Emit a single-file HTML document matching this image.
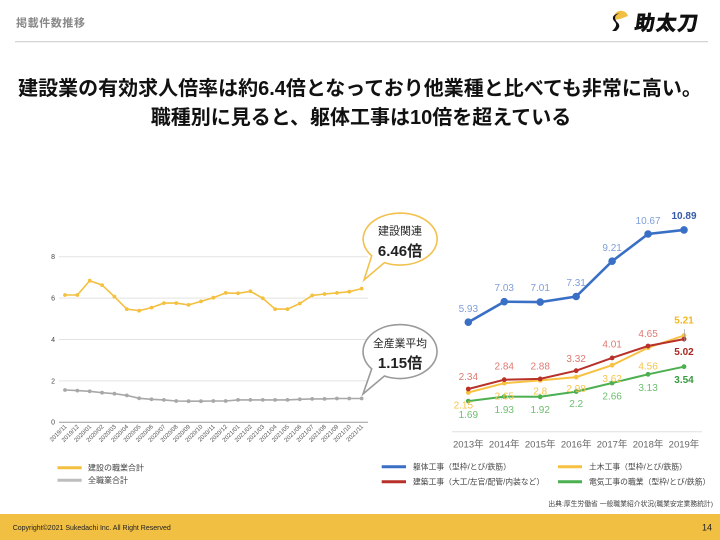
<!DOCTYPE html>
<html><head><meta charset="utf-8"><style>
html,body{margin:0;padding:0;background:#fff;}
svg{display:block;font-family:"Liberation Sans","Noto Sans CJK JP",sans-serif;}
</style></head><body>
<svg width="720" height="540" viewBox="0 0 720 540" xmlns="http://www.w3.org/2000/svg">
<rect width="720" height="540" fill="#fff"/>
<!-- header -->
<text x="16" y="26.5" font-size="11" font-weight="bold" fill="#888" letter-spacing="0.6">掲載件数推移</text>
<line x1="15" y1="41.7" x2="708" y2="41.7" stroke="#cfcfcf" stroke-width="1.2"/>
<!-- logo -->
<g>
<path d="M614 20 A7 7 0 0 1 628 16 L620 19 Z" fill="#f1bf41"/>
<path d="M620 13 Q612 16 617 22 Q622 26 616 31 L612 31 Q619 25 614 21 Q610 15 620 13 Z" fill="#111"/>
<text x="634" y="30" font-size="20" font-weight="bold" fill="#111" stroke="#111" stroke-width="0.7" letter-spacing="1.5" transform="skewX(-8)" transform-origin="660 30">助太刀</text>
</g>
<!-- title -->
<text x="360" y="95" font-size="20" font-weight="bold" fill="#111" text-anchor="middle">建設業の有効求人倍率は約6.4倍となっており他業種と比べても非常に高い。</text>
<text x="361" y="124" font-size="20" font-weight="bold" fill="#111" text-anchor="middle">職種別に見ると、躯体工事は10倍を超えている</text>

<!-- LEFT CHART -->
<g stroke="#e3e3e3" stroke-width="1">
<line x1="59" y1="256.7" x2="368" y2="256.7"/>
<line x1="59" y1="298.1" x2="368" y2="298.1"/>
<line x1="59" y1="339.5" x2="368" y2="339.5"/>
<line x1="59" y1="380.9" x2="368" y2="380.9"/>
</g>
<line x1="59" y1="422.3" x2="368" y2="422.3" stroke="#9a9a9a" stroke-width="1"/>
<g font-size="7" fill="#444" text-anchor="end">
<text x="55" y="259">8</text>
<text x="55" y="300.5">6</text>
<text x="55" y="342">4</text>
<text x="55" y="383.3">2</text>
<text x="55" y="424.7">0</text>
</g>
<polyline fill="none" stroke="#f4c040" stroke-width="1.6" points="65,295 77.36,295 89.72,280.7 102.08,285.1 114.44,296.7 126.8,309.1 139.16,310.7 151.52,307.6 163.88,303.1 176.24,303.1 188.6,304.9 200.96,301.4 213.32,297.7 225.68,292.9 238.04,293.3 250.4,291.3 262.76,298.3 275.12,309.1 287.48,309.1 299.84,303.5 312.2,295.4 324.56,294 336.92,292.9 349.28,291.7 361.64,288.6"/>
<g fill="#f4c040">
<circle cx="65" cy="295" r="1.9"/><circle cx="77.36" cy="295" r="1.9"/><circle cx="89.72" cy="280.7" r="1.9"/><circle cx="102.08" cy="285.1" r="1.9"/><circle cx="114.44" cy="296.7" r="1.9"/><circle cx="126.8" cy="309.1" r="1.9"/><circle cx="139.16" cy="310.7" r="1.9"/><circle cx="151.52" cy="307.6" r="1.9"/><circle cx="163.88" cy="303.1" r="1.9"/><circle cx="176.24" cy="303.1" r="1.9"/><circle cx="188.6" cy="304.9" r="1.9"/><circle cx="200.96" cy="301.4" r="1.9"/><circle cx="213.32" cy="297.7" r="1.9"/><circle cx="225.68" cy="292.9" r="1.9"/><circle cx="238.04" cy="293.3" r="1.9"/><circle cx="250.4" cy="291.3" r="1.9"/><circle cx="262.76" cy="298.3" r="1.9"/><circle cx="275.12" cy="309.1" r="1.9"/><circle cx="287.48" cy="309.1" r="1.9"/><circle cx="299.84" cy="303.5" r="1.9"/><circle cx="312.2" cy="295.4" r="1.9"/><circle cx="324.56" cy="294" r="1.9"/><circle cx="336.92" cy="292.9" r="1.9"/><circle cx="349.28" cy="291.7" r="1.9"/><circle cx="361.64" cy="288.6" r="1.9"/>
</g>
<polyline fill="none" stroke="#a8a8a8" stroke-width="1.6" points="65,390 77.36,390.6 89.72,391.3 102.08,392.7 114.44,393.7 126.8,395.4 139.16,398.3 151.52,399.3 163.88,399.9 176.24,401 188.6,401.2 200.96,401.2 213.32,401 225.68,401 238.04,399.9 250.4,399.9 262.76,399.9 275.12,399.9 287.48,399.9 299.84,399.3 312.2,398.9 324.56,398.9 336.92,398.5 349.28,398.5 361.64,398.5"/>
<g fill="#a8a8a8">
<circle cx="65" cy="390" r="1.9"/><circle cx="77.36" cy="390.6" r="1.9"/><circle cx="89.72" cy="391.3" r="1.9"/><circle cx="102.08" cy="392.7" r="1.9"/><circle cx="114.44" cy="393.7" r="1.9"/><circle cx="126.8" cy="395.4" r="1.9"/><circle cx="139.16" cy="398.3" r="1.9"/><circle cx="151.52" cy="399.3" r="1.9"/><circle cx="163.88" cy="399.9" r="1.9"/><circle cx="176.24" cy="401" r="1.9"/><circle cx="188.6" cy="401.2" r="1.9"/><circle cx="200.96" cy="401.2" r="1.9"/><circle cx="213.32" cy="401" r="1.9"/><circle cx="225.68" cy="401" r="1.9"/><circle cx="238.04" cy="399.9" r="1.9"/><circle cx="250.4" cy="399.9" r="1.9"/><circle cx="262.76" cy="399.9" r="1.9"/><circle cx="275.12" cy="399.9" r="1.9"/><circle cx="287.48" cy="399.9" r="1.9"/><circle cx="299.84" cy="399.3" r="1.9"/><circle cx="312.2" cy="398.9" r="1.9"/><circle cx="324.56" cy="398.9" r="1.9"/><circle cx="336.92" cy="398.5" r="1.9"/><circle cx="349.28" cy="398.5" r="1.9"/><circle cx="361.64" cy="398.5" r="1.9"/>
</g>
<g font-size="6" fill="#555" text-anchor="end">
<text transform="translate(67,427) rotate(-45)">2019/11</text>
<text transform="translate(79.36,427) rotate(-45)">2019/12</text>
<text transform="translate(91.72,427) rotate(-45)">2020/01</text>
<text transform="translate(104.08,427) rotate(-45)">2020/02</text>
<text transform="translate(116.44,427) rotate(-45)">2020/03</text>
<text transform="translate(128.8,427) rotate(-45)">2020/04</text>
<text transform="translate(141.16,427) rotate(-45)">2020/05</text>
<text transform="translate(153.52,427) rotate(-45)">2020/06</text>
<text transform="translate(165.88,427) rotate(-45)">2020/07</text>
<text transform="translate(178.24,427) rotate(-45)">2020/08</text>
<text transform="translate(190.6,427) rotate(-45)">2020/09</text>
<text transform="translate(202.96,427) rotate(-45)">2020/10</text>
<text transform="translate(215.32,427) rotate(-45)">2020/11</text>
<text transform="translate(227.68,427) rotate(-45)">2020/12</text>
<text transform="translate(240.04,427) rotate(-45)">2021/01</text>
<text transform="translate(252.4,427) rotate(-45)">2021/02</text>
<text transform="translate(264.76,427) rotate(-45)">2021/03</text>
<text transform="translate(277.12,427) rotate(-45)">2021/04</text>
<text transform="translate(289.48,427) rotate(-45)">2021/05</text>
<text transform="translate(301.84,427) rotate(-45)">2021/06</text>
<text transform="translate(314.2,427) rotate(-45)">2021/07</text>
<text transform="translate(326.56,427) rotate(-45)">2021/08</text>
<text transform="translate(338.92,427) rotate(-45)">2021/09</text>
<text transform="translate(351.28,427) rotate(-45)">2021/10</text>
<text transform="translate(363.64,427) rotate(-45)">2021/11</text>
</g>
<!-- left legend -->
<line x1="57.5" y1="467.7" x2="81.7" y2="467.7" stroke="#f4c040" stroke-width="3"/>
<text x="88" y="470.5" font-size="8" fill="#444">建設の職業合計</text>
<line x1="57.5" y1="480.3" x2="81.7" y2="480.3" stroke="#bdbdbd" stroke-width="3"/>
<text x="88" y="483.1" font-size="8" fill="#444">全職業合計</text>

<!-- callouts -->
<path d="M371.7 255.7 L364 280 L384.4 262.6 A37 26 0 1 0 371.7 255.7 Z" fill="#fff" stroke="#f2c14e" stroke-width="1.6"/>
<text x="400" y="234.5" font-size="11" fill="#222" text-anchor="middle">建設関連</text>
<text x="400" y="256" font-size="15" font-weight="bold" fill="#222" text-anchor="middle">6.46倍</text>
<path d="M371.7 368.9 L363 394 L384.4 376 A37 27 0 1 0 371.7 368.9 Z" fill="#fff" stroke="#9a9a9a" stroke-width="1.6"/>
<text x="400" y="347" font-size="10.8" fill="#222" text-anchor="middle">全産業平均</text>
<text x="400" y="368" font-size="15" font-weight="bold" fill="#222" text-anchor="middle">1.15倍</text>

<!-- RIGHT CHART -->
<line x1="452" y1="431.7" x2="702" y2="431.7" stroke="#e0e0e0" stroke-width="1"/>
<g font-size="9.5" fill="#666" text-anchor="middle">
<text x="468.3" y="447.5">2013年</text>
<text x="504.25" y="447.5">2014年</text>
<text x="540.2" y="447.5">2015年</text>
<text x="576.15" y="447.5">2016年</text>
<text x="612.1" y="447.5">2017年</text>
<text x="648.05" y="447.5">2018年</text>
<text x="684" y="447.5">2019年</text>
</g>
<!-- green -->
<polyline fill="none" stroke="#4caf50" stroke-width="2" points="468.3,401.1 504.25,396.6 540.2,396.8 576.15,391.6 612.1,383 648.05,374.3 684,366.7"/>
<g fill="#4caf50"><circle cx="468.3" cy="401.1" r="2.4"/><circle cx="504.25" cy="396.6" r="2.4"/><circle cx="540.2" cy="396.8" r="2.4"/><circle cx="576.15" cy="391.6" r="2.4"/><circle cx="612.1" cy="383" r="2.4"/><circle cx="648.05" cy="374.3" r="2.4"/><circle cx="684" cy="366.7" r="2.4"/></g>
<!-- yellow -->
<polyline fill="none" stroke="#f7c242" stroke-width="2" points="468.3,392.5 504.25,383.2 540.2,380.4 576.15,377.1 612.1,365.2 648.05,347.7 684,335.6"/>
<g fill="#f7c242"><circle cx="468.3" cy="392.5" r="2.4"/><circle cx="504.25" cy="383.2" r="2.4"/><circle cx="540.2" cy="380.4" r="2.4"/><circle cx="576.15" cy="377.1" r="2.4"/><circle cx="612.1" cy="365.2" r="2.4"/><circle cx="648.05" cy="347.7" r="2.4"/><circle cx="684" cy="335.6" r="2.4"/></g>
<!-- red -->
<polyline fill="none" stroke="#b8302a" stroke-width="2" points="468.3,389 504.25,379.7 540.2,378.9 576.15,370.7 612.1,357.9 648.05,346 684,339.1"/>
<g fill="#b8302a"><circle cx="468.3" cy="389" r="2.4"/><circle cx="504.25" cy="379.7" r="2.4"/><circle cx="540.2" cy="378.9" r="2.4"/><circle cx="576.15" cy="370.7" r="2.4"/><circle cx="612.1" cy="357.9" r="2.4"/><circle cx="648.05" cy="346" r="2.4"/><circle cx="684" cy="339.1" r="2.4"/></g>
<line x1="684.5" y1="329" x2="684.5" y2="342" stroke="#999" stroke-width="0.6"/>
<!-- blue -->
<polyline fill="none" stroke="#3a6fc6" stroke-width="2.6" points="468.3,322.2 504.25,301.7 540.2,302.1 576.15,296.5 612.1,261.2 648.05,234 684,229.9"/>
<g fill="#3a6fc6"><circle cx="468.3" cy="322.2" r="3.8"/><circle cx="504.25" cy="301.7" r="3.8"/><circle cx="540.2" cy="302.1" r="3.8"/><circle cx="576.15" cy="296.5" r="3.8"/><circle cx="612.1" cy="261.2" r="3.8"/><circle cx="648.05" cy="234" r="3.8"/><circle cx="684" cy="229.9" r="3.8"/></g>
<!-- labels -->
<g font-size="10" text-anchor="middle">
<g fill="#7f9ed8">
<text x="468.3" y="311.8">5.93</text>
<text x="504.25" y="291.2">7.03</text>
<text x="540.2" y="291.2">7.01</text>
<text x="576.15" y="285.8">7.31</text>
<text x="612.1" y="250.8">9.21</text>
<text x="648.05" y="224.2">10.67</text>
</g>
<text x="684" y="219.2" fill="#3559a8" font-weight="bold">10.89</text>
<g fill="#de7a72">
<text x="468.3" y="380.2">2.34</text>
<text x="504.25" y="369.5">2.84</text>
<text x="540.2" y="369.5">2.88</text>
<text x="576.15" y="361.8">3.32</text>
<text x="612.1" y="347.5">4.01</text>
<text x="648.05" y="336.8">4.65</text>
</g>
<text x="684" y="355.2" fill="#a82620" font-weight="bold">5.02</text>
<g fill="#f6c44c">
<text x="463.3" y="408.5">2.15</text>
<text x="504.25" y="399.5">2.65</text>
<text x="540.2" y="394.5">2.8</text>
<text x="576.15" y="391.8">2.98</text>
<text x="612.1" y="381.8">3.62</text>
<text x="648.05" y="369.5">4.56</text>
</g>
<text x="684" y="323.5" fill="#f2b824" font-weight="bold">5.21</text>
<g fill="#6cbf6f">
<text x="468.3" y="417.8">1.69</text>
<text x="504.25" y="412.8">1.93</text>
<text x="540.2" y="412.8">1.92</text>
<text x="576.15" y="406.8">2.2</text>
<text x="612.1" y="399.5">2.66</text>
<text x="648.05" y="390.8">3.13</text>
</g>
<text x="684" y="382.8" fill="#3a9a40" font-weight="bold">3.54</text>
</g>
<!-- right legend -->
<line x1="381.7" y1="466.7" x2="406" y2="466.7" stroke="#3a6fc6" stroke-width="3"/>
<text x="413" y="469.5" font-size="7.8" fill="#444">躯体工事（型枠/とび/鉄筋）</text>
<line x1="558" y1="466.7" x2="582" y2="466.7" stroke="#f7c242" stroke-width="3"/>
<text x="589" y="469.5" font-size="7.8" fill="#444">土木工事（型枠/とび/鉄筋）</text>
<line x1="381.7" y1="481.7" x2="406" y2="481.7" stroke="#b8302a" stroke-width="3"/>
<text x="413" y="484.5" font-size="7.8" fill="#444">建築工事（大工/左官/配管/内装など）</text>
<line x1="558" y1="481.7" x2="582" y2="481.7" stroke="#4caf50" stroke-width="3"/>
<text x="589" y="484.5" font-size="7.8" fill="#444">電気工事の職業（型枠/とび/鉄筋）</text>
<text x="713" y="505.8" font-size="6.8" fill="#444" text-anchor="end">出典:厚生労働省 一般職業紹介状況(職業安定業務統計)</text>

<!-- footer -->
<rect x="0" y="514" width="720" height="26" fill="#f1bf41"/>
<text x="12.7" y="529.8" font-size="7" fill="#222">Copyright©2021 Sukedachi Inc. All Right Reserved</text>
<text x="712" y="530.5" font-size="9" fill="#222" text-anchor="end">14</text>
</svg>
</body></html>
